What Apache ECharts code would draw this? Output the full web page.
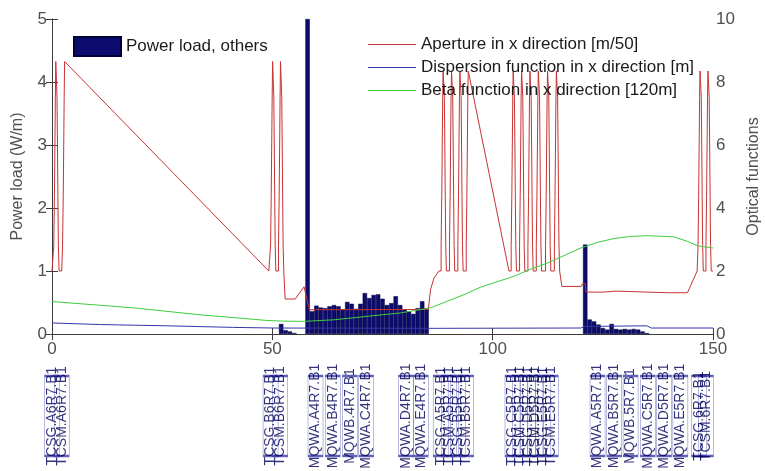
<!DOCTYPE html>
<html><head><meta charset="utf-8">
<script src="https://cdn.jsdelivr.net/npm/echarts@6/dist/echarts.min.js"></script>
<style>html,body{margin:0;padding:0;background:#fff}#c{width:765px;height:471px}</style>
</head><body><div id="c"></div>
<script>
// ---------- data ----------
const xTicks = [0, 50, 100, 150];
const loadTicks = [0, 1, 2, 3, 4, 5];
const opticsTicks = [0, 2, 4, 6, 8, 10];

// Power load (W/m), 1 m bins, left axis
const powerS = [52, 53, 54, 55,
  58, 59, 60, 61, 62, 63, 64, 65, 66, 67, 68, 69, 70, 71, 72, 73, 74, 75, 76, 77, 78, 79, 80, 81, 82, 83, 84, 85,
  121, 122, 123, 124, 125, 126, 127, 128, 129, 130, 131, 132, 133, 134, 135];
const powerLoad = [0.16, 0.06, 0.04, 0.015,
  5.0, 0.36, 0.45, 0.42, 0.41, 0.44, 0.46, 0.44, 0.39, 0.51, 0.48, 0.40, 0.48, 0.65, 0.57, 0.62, 0.63, 0.56, 0.46, 0.49, 0.60, 0.46, 0.39, 0.36, 0.32, 0.41, 0.52, 0.41,
  1.42, 0.23, 0.20, 0.15, 0.095, 0.07, 0.16, 0.08, 0.07, 0.08, 0.07, 0.08, 0.07, 0.04, 0.015];

// Dispersion function (right axis)
const dispS = [0, 11, 26, 41, 50, 86, 120, 121, 135, 136, 150];
const dispV = [0.35, 0.30, 0.26, 0.21, 0.19, 0.18, 0.19, 0.24, 0.26, 0.19, 0.19];

// Beta function (right axis)
const betaS = [0, 18.5, 33.6, 48.8, 52, 57, 63.9, 71.5, 79.1, 85.9, 93.5, 97.3, 104.8, 108.6, 112.4, 116.2, 120, 123.8, 127.5, 131.3, 135.1, 138.9, 141.2, 144.2, 146.5, 150];
const betaV = [1.03, 0.83, 0.61, 0.43, 0.41, 0.40, 0.45, 0.56, 0.67, 0.83, 1.25, 1.49, 1.83, 2.06, 2.25, 2.49, 2.73, 2.91, 3.03, 3.10, 3.12, 3.10, 3.08, 2.94, 2.80, 2.73];

// Aperture (right axis): points between collimators
const apertureS = [0, 2.2, 49.2, 51.2, 52.9, 55.2, 57.2, 58.4, 85.4, 85.9, 86.7, 87.8, 103.7, 115.7, 120.1, 120.4, 121.0, 121.2, 125, 128, 131, 135, 140, 144.2, 146.4, 150];
const apertureV = [2.0, 2.0, 2.0, 2.0, 1.11, 1.11, 1.50, 0.77, 0.78, 1.41, 1.78, 2.0, 2.0, 1.51, 1.51, 1.60, 1.60, 1.33, 1.33, 1.36, 1.35, 1.33, 1.31, 1.31, 2.0, 2.0];
// Collimator jaws seen as narrow stepped spikes in the aperture
const collimatorS = [1.0, 3.0, 50.2, 52.0, 88.9, 90.8, 92.7, 94.6, 104.8, 106.7, 108.6, 110.5, 112.6, 114.6, 147.2, 149.0];
const collimatorPeak = [8.65, 8.65, 8.65, 8.65, 8.35, 8.35, 8.35, 8.35, 8.35, 8.35, 8.35, 8.35, 8.35, 8.35, 8.35, 8.35];
const collimatorRisingOnly = [false, true, false, false, false, false, false, true, false, false, false, false, false, false, false, false];
const collimatorSteps = [2.0, 2.8, 4.4, 6.0, 7.5];
const collimatorHalfWidth = [0.6, 0.45, 0.34, 0.24, 0.14];

// Element names along s
const elementNames = ["TCSG.A6R7.B1", "TCSM.A6R7.B1", "TCSG.B6R7.B1", "TCSM.B6R7.B1",
  "MQWA.A4R7.B1", "MQWA.B4R7.B1", "MQWB.4R7.B1", "MQWA.C4R7.B1", "MQWA.D4R7.B1", "MQWA.E4R7.B1",
  "TCSG.A5R7.B1", "TCSM.A5R7.B1", "TCSG.B5R7.B1", "TCSM.B5R7.B1",
  "TCSG.C5R7.B1", "TCSM.C5R7.B1", "TCSG.D5R7.B1", "TCSM.D5R7.B1", "TCSG.E5R7.B1", "TCSM.E5R7.B1",
  "MQWA.A5R7.B1", "MQWA.B5R7.B1", "MQWB.5R7.B1", "MQWA.C5R7.B1", "MQWA.D5R7.B1", "MQWA.E5R7.B1",
  "TCSG.6R7.B1", "TCSM.6R7.B1"];
const elementS = [0.0, 2.2, 49.6, 51.8,
  59.8, 63.7, 67.6, 71.3, 80.3, 83.7,
  88.2, 90.1, 92.1, 94.0,
  104.5, 106.2, 108.0, 109.7, 111.5, 113.2,
  123.8, 127.6, 131.3, 135.2, 138.9, 142.6,
  146.8, 148.4];

const names = {
  load: 'Power load, others',
  ap: 'Aperture in x direction [m/50]',
  disp: 'Dispersion function in x direction [m]',
  beta: 'Beta function in x direction [120m]'
};

// ---------- build ----------
function buildAperture() {
  const pts = apertureS.map((s, i) => [s, apertureV[i]]);
  collimatorS.forEach((c, k) => {
    const peak = collimatorPeak[k];
    const lv = collimatorSteps.concat([peak]);
    const hw = collimatorHalfWidth;
    for (let i = 0; i < hw.length; i++) {
      pts.push([c - hw[i], lv[i]]);
      pts.push([c - hw[i], lv[i + 1]]);
    }
    if (collimatorRisingOnly[k]) { pts.push([c, peak]); return; }
    for (let i = hw.length - 1; i >= 0; i--) {
      pts.push([c + hw[i], lv[i + 1]]);
      pts.push([c + hw[i], lv[i]]);
    }
  });
  return pts.map((p, i) => [p, i]).sort((a, b) => (a[0][0] - b[0][0]) || (a[1] - b[1])).map(a => a[0]);
}

const FONT = 'Liberation Sans, Arial, sans-serif';
const tickColor = '#505050';
const axisColor = '#3c3c3c';
const colors = { load: '#0c0c6e', ap: '#c83232', disp: '#3535a8', beta: '#3ccc3c' };

const chart = echarts.init(document.getElementById('c'), null, { renderer: 'canvas' });
chart.setOption({
  animation: false,
  backgroundColor: '#ffffff',
  grid: [
    { left: 52, width: 661, top: 19, height: 315, containLabel: false, outerBoundsMode: 'none' },
    { left: 52, width: 661, top: 360, height: 112, containLabel: false, outerBoundsMode: 'none' }
  ],
  legend: [
    { data: [names.load], left: 68, top: 31, itemWidth: 47, itemHeight: 19, icon: 'rect', selectedMode: false,
      textStyle: { fontSize: 17, fontFamily: FONT, color: '#1a1a1a' } },
    { data: [names.ap, names.disp, names.beta].map(n => ({ name: n, icon: 'rect' })),
      left: 363, top: 31, orient: 'vertical', itemWidth: 48, itemHeight: 1.2, itemGap: 6, selectedMode: false,
      textStyle: { fontSize: 17, fontFamily: FONT, color: '#1a1a1a', lineHeight: 17 } }
  ],
  xAxis: [
    { type: 'value', gridIndex: 0, min: 0, max: 150, interval: 50, position: 'bottom',
      axisLine: { show: true, lineStyle: { color: axisColor, width: 1 } },
      axisTick: { show: true, inside: true, length: 6, lineStyle: { color: axisColor } },
      axisLabel: { fontSize: 17, fontFamily: FONT, color: tickColor, margin: 7, customValues: xTicks },
      splitLine: { show: false } },
    { type: 'value', gridIndex: 0, min: 0, max: 150, interval: 50, position: 'top',
      axisLine: { show: true, lineStyle: { color: axisColor, width: 1 } },
      axisTick: { show: true, inside: true, length: 6, lineStyle: { color: axisColor } },
      axisLabel: { show: false }, splitLine: { show: false } },
    { type: 'value', gridIndex: 1, min: 0, max: 150, show: false }
  ],
  yAxis: [
    { type: 'value', gridIndex: 0, min: 0, max: 5, interval: 1, position: 'left',
      name: 'Power load (W/m)', nameLocation: 'middle', nameGap: 26, nameRotate: 90,
      nameTextStyle: { fontSize: 16, fontFamily: FONT, color: tickColor },
      axisLine: { show: true, lineStyle: { color: axisColor, width: 1 } },
      axisTick: { show: true, inside: true, length: 6, lineStyle: { color: axisColor } },
      axisLabel: { fontSize: 17, fontFamily: FONT, color: tickColor, margin: 5, customValues: loadTicks },
      splitLine: { show: false } },
    { type: 'value', gridIndex: 0, min: 0, max: 10, interval: 2, position: 'right',
      name: 'Optical functions', nameLocation: 'middle', nameGap: 33, nameRotate: 90,
      nameTextStyle: { fontSize: 16, fontFamily: FONT, color: tickColor },
      axisLine: { show: true, lineStyle: { color: axisColor, width: 1 } },
      axisTick: { show: true, inside: true, length: 6, lineStyle: { color: axisColor } },
      axisLabel: { fontSize: 17, fontFamily: FONT, color: tickColor, margin: 3, customValues: opticsTicks },
      splitLine: { show: false } },
    { type: 'value', gridIndex: 1, min: 0, max: 1, show: false }
  ],
  series: [
    { name: names.load, type: 'bar', xAxisIndex: 0, yAxisIndex: 0,
      data: powerS.map((s, i) => [s, powerLoad[i]]),
      barWidth: '100%', clip: true,
      itemStyle: { color: colors.load, borderColor: '#00003a', borderWidth: 0.5 }, z: 1 },
    { name: names.ap, type: 'line', xAxisIndex: 0, yAxisIndex: 1, data: buildAperture(),
      symbol: 'none', lineStyle: { color: colors.ap, width: 1 }, itemStyle: { color: colors.ap }, z: 3 },
    { name: names.disp, type: 'line', xAxisIndex: 0, yAxisIndex: 1, data: dispS.map((s, i) => [s, dispV[i]]),
      symbol: 'none', lineStyle: { color: colors.disp, width: 1 }, itemStyle: { color: colors.disp }, z: 3 },
    { name: names.beta, type: 'line', xAxisIndex: 0, yAxisIndex: 1, data: betaS.map((s, i) => [s, betaV[i]]),
      symbol: 'none', lineStyle: { color: colors.beta, width: 1 }, itemStyle: { color: colors.beta }, z: 3 },
    { type: 'scatter', xAxisIndex: 2, yAxisIndex: 2, clip: false, silent: true,
      data: elementS.map((s, i) => ({ name: elementNames[i], value: [s, 0.5] })),
      symbol: 'rect', symbolSize: [15, 80],
      itemStyle: { color: 'rgba(0,0,0,0)', borderColor: '#3a3aa8', borderWidth: 1 }, z: 4 },
    { type: 'scatter', xAxisIndex: 2, yAxisIndex: 2, clip: false, silent: true,
      data: elementS.map((s, i) => ({ name: elementNames[i], value: [s, 0.5] })),
      symbol: 'rect', symbolSize: 1, itemStyle: { color: 'rgba(0,0,0,0)' },
      label: { show: true, position: 'inside', rotate: 90, formatter: '{b}', fontSize: 14, fontFamily: FONT, color: '#00005a' },
      labelLayout: { hideOverlap: false }, z: 5 }
  ]
});
</script></body></html>
